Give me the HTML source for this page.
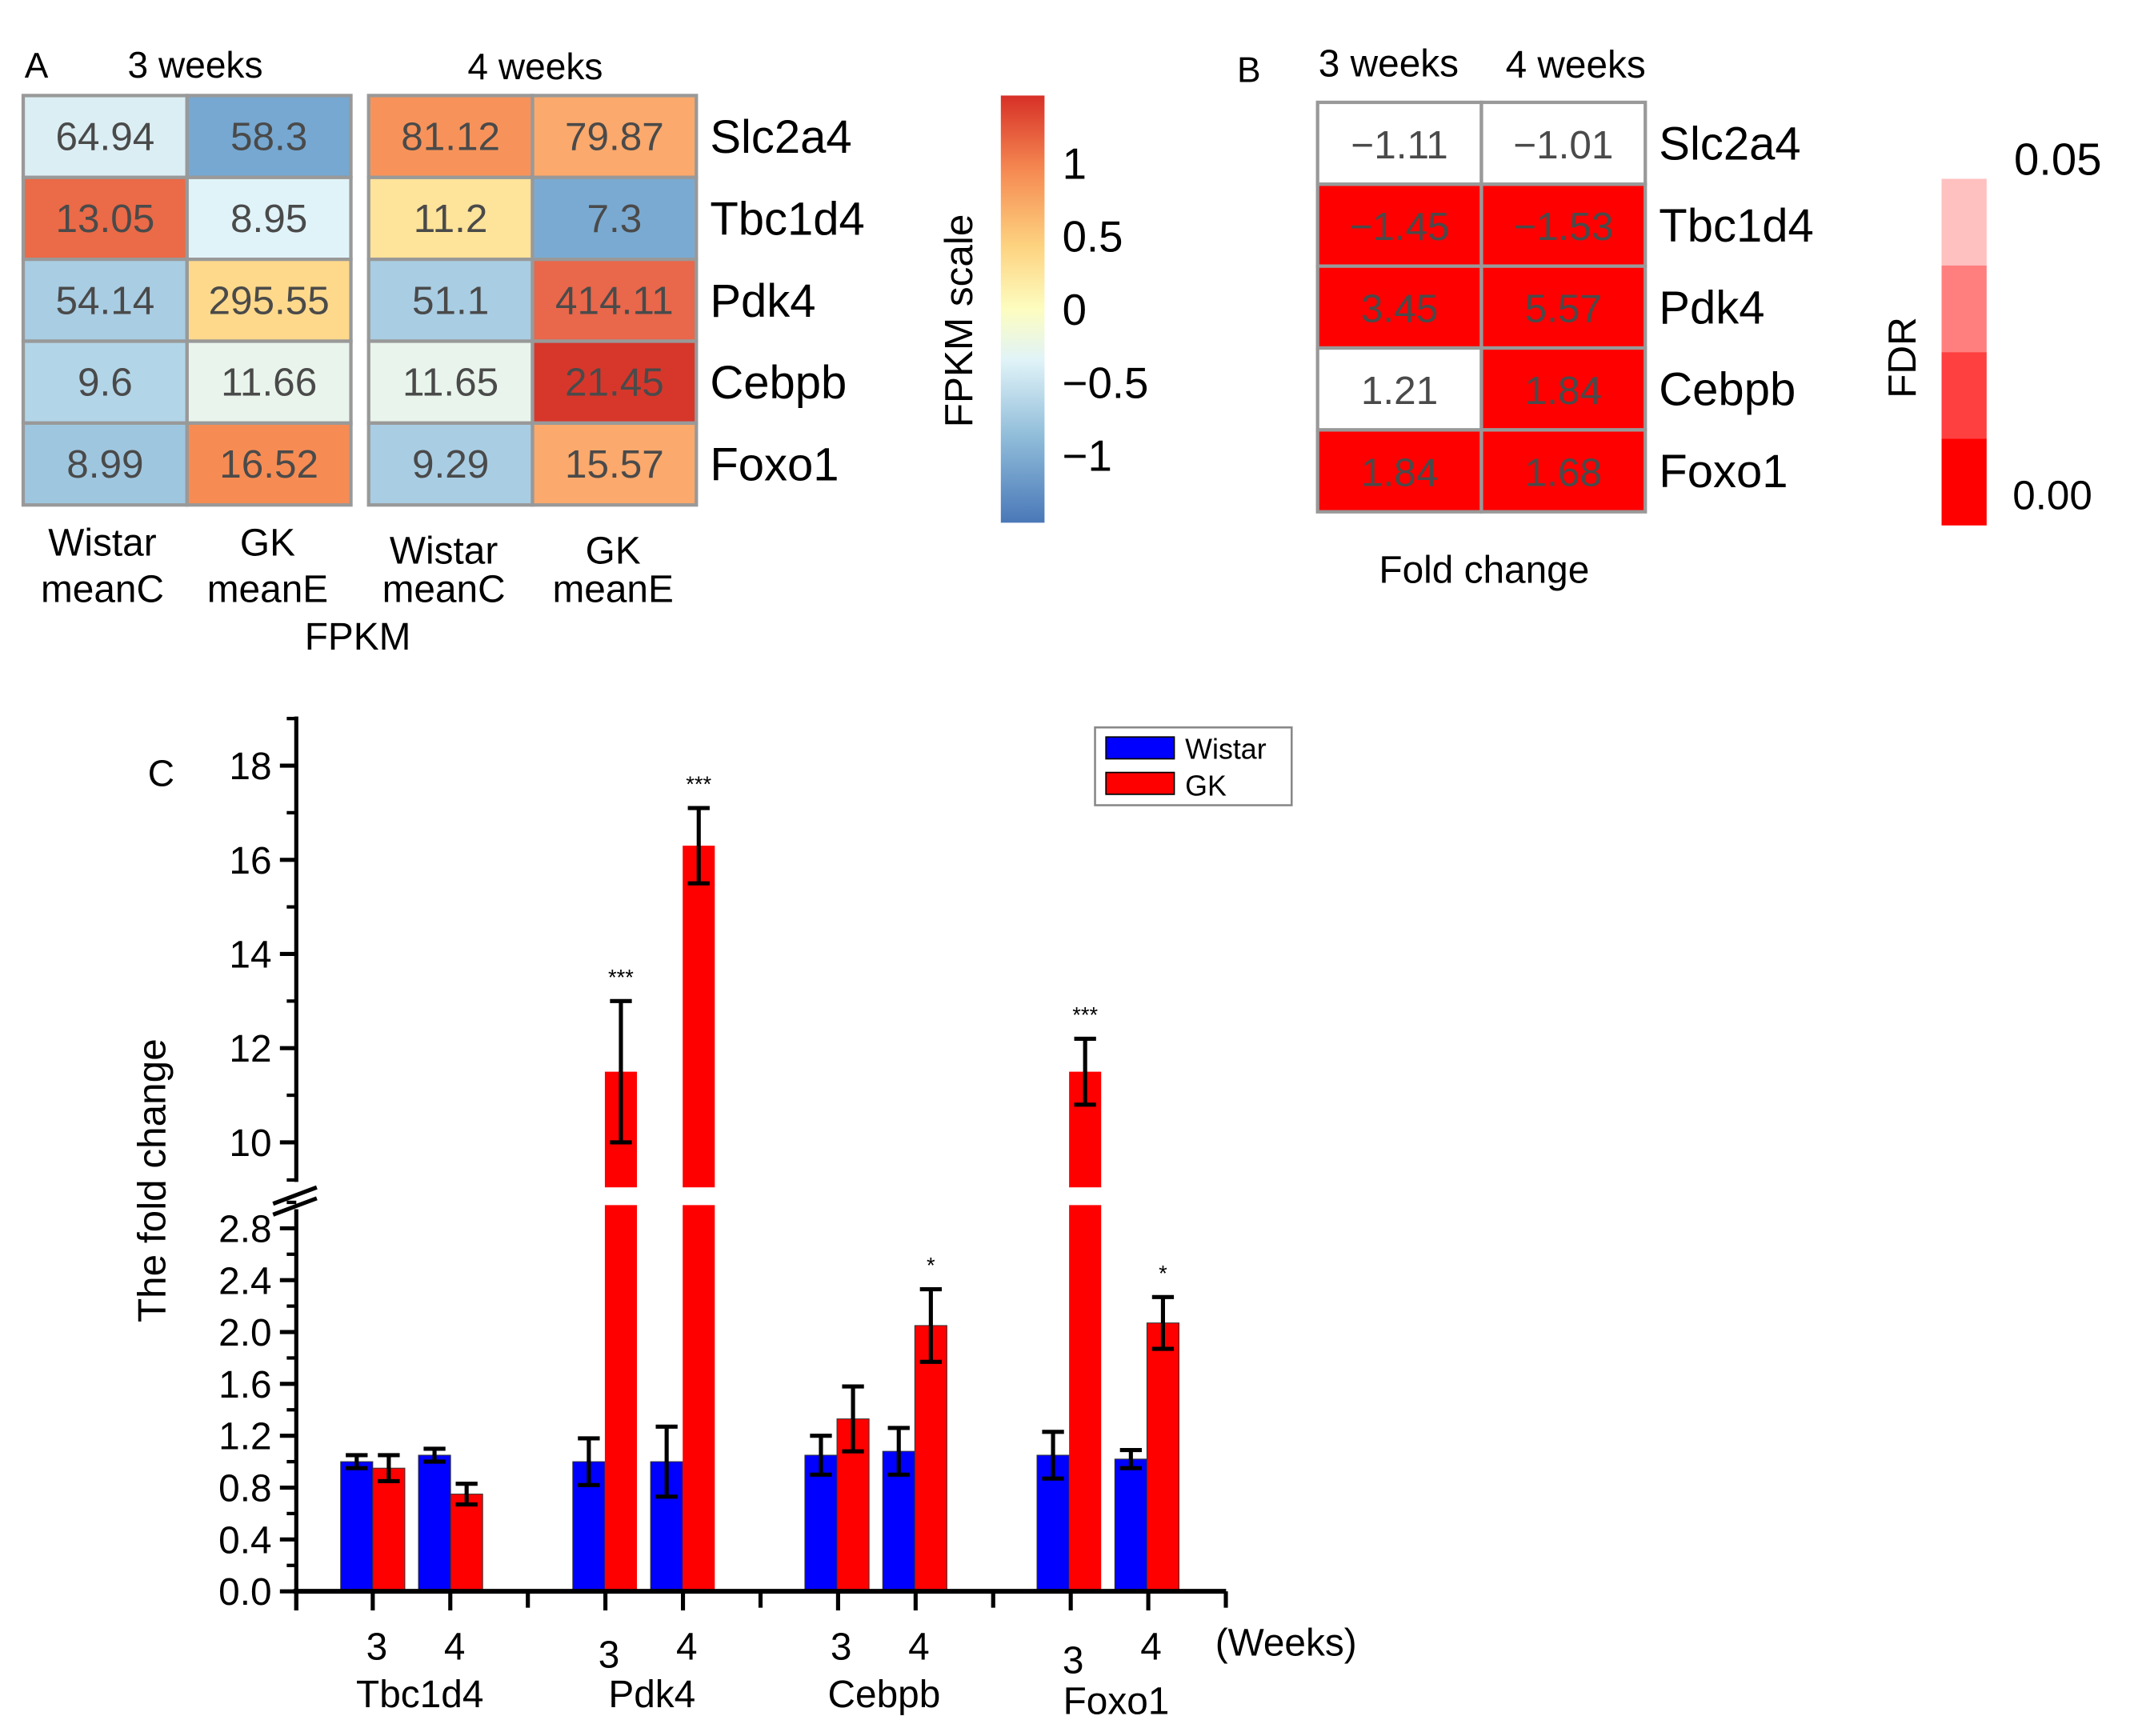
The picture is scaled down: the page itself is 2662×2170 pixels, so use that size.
<!DOCTYPE html>
<html><head><meta charset="utf-8"><style>
html,body{margin:0;padding:0;background:#fff;}
svg{display:block;font-family:"Liberation Sans",Arial,sans-serif;}
</style></head><body>
<svg id="fig" width="2662" height="2170" viewBox="0 0 1560 1272" preserveAspectRatio="none" xmlns="http://www.w3.org/2000/svg">
<defs>
<linearGradient id="fpkmGrad" x1="0" y1="1" x2="0" y2="0">
<stop offset="0" stop-color="#4a78b8"/><stop offset="0.2" stop-color="#8fbcd9"/><stop offset="0.38" stop-color="#e0f3f8"/><stop offset="0.5" stop-color="#fdfdc0"/><stop offset="0.65" stop-color="#fdd27f"/><stop offset="0.82" stop-color="#f68c53"/><stop offset="1" stop-color="#d73027"/>
</linearGradient>
</defs>
<g id="panelA"></g>
<g id="panelB"></g>
<g id="panelC"></g>
</svg>
<script>
const NS="http://www.w3.org/2000/svg";
const genesA=["Slc2a4","Tbc1d4","Pdk4","Cebpb","Foxo1"];
const fpkm3W=["64.94","13.05","54.14","9.6","8.99"];
const fpkm3GK=["58.3","8.95","295.55","11.66","16.52"];
const fpkm4W=["81.12","11.2","51.1","11.65","9.29"];
const fpkm4GK=["79.87","7.3","414.11","21.45","15.57"];
const colA3W=["#dbeef4","#eb6a47","#a9cde3","#b3d5e8","#9fc6df"];
const colA3GK=["#76a8d1","#e0f3f8","#fed98b","#e9f5ec","#f68c53"];
const colA4W=["#f7935a","#fee39a","#a9cde3","#e9f5ec","#a9cde3"];
const colA4GK=["#fba96c","#7aaad2","#e9674a","#d7372b","#fba96c"];
const fc3=["\u22121.11","\u22121.45","3.45","1.21","1.84"];
const fc4=["\u22121.01","\u22121.53","5.57","1.84","1.68"];
const sig3=[false,true,true,false,true];
const sig4=[false,true,true,true,true];
const fpkmTicks=[1,0.5,0,-0.5,-1];
const fdrTicks=["0.05","0.00"];

const genesC=["Tbc1d4","Pdk4","Cebpb","Foxo1"];
const wistar3=[1.0,1.0,1.05,1.05];
const wistar3Err=[0.05,0.18,0.15,0.18];
const gk3=[0.95,11.5,1.33,11.5];
const gk3Err=[0.1,1.5,0.25,0.7];
const wistar4=[1.05,1.0,1.08,1.02];
const wistar4Err=[0.05,0.27,0.18,0.07];
const gk4=[0.75,16.3,2.05,2.07];
const gk4Err=[0.08,0.8,0.28,0.2];
const stars3=["","***","","***"];
const stars4=["","***","*","*"];
const lowTicks=[0,0.4,0.8,1.2,1.6,2.0,2.4,2.8];
const highTicks=[10,12,14,16,18];

function el(parent,tag,attrs,text){const e=document.createElementNS(NS,tag);for(const k in attrs)e.setAttribute(k,attrs[k]);if(text!==undefined)e.textContent=text;parent.appendChild(e);return e;}

// ---------- Panel A ----------
const A=document.getElementById('panelA');
let t;
t=el(A,'text',{x:18,y:57,'font-size':26,fill:'#000'},'A');
t=el(A,'text',{x:143,y:57,'font-size':27,'text-anchor':'middle'},'3 weeks');
t=el(A,'text',{x:392,y:58,'font-size':27,'text-anchor':'middle'},'4 weeks');
const cols=[[17,fpkm3W,colA3W],[137,fpkm3GK,colA3GK],[270,fpkm4W,colA4W],[390,fpkm4GK,colA4GK]];
const cw=120,rh=60,ay0=70;
cols.forEach((c,ci)=>{for(let r=0;r<5;r++){
 const g=el(A,'g',{});
 
 el(g,'rect',{x:c[0],y:ay0+r*rh,width:cw,height:rh,fill:c[2][r],stroke:'#999','stroke-width':2.5});
 el(g,'text',{x:c[0]+cw/2,y:ay0+r*rh+40,'font-size':29,'text-anchor':'middle',fill:'#4a4a4a'},c[1][r]);
}});
genesA.forEach((gname,r)=>{t=el(A,'text',{x:520,y:ay0+r*rh+42,'font-size':34},gname);});
[[75,'Wistar','meanC',397],[196,'GK','meanE',397],[325,'Wistar','meanC',403],[449,'GK','meanE',403]].forEach(a=>{
 t=el(A,'text',{x:a[0],y:a[3]+10,'font-size':28,'text-anchor':'middle'},a[1]);
 t=el(A,'text',{x:a[0],y:441,'font-size':28,'text-anchor':'middle'},a[2]);
});
t=el(A,'text',{x:262,y:476,'font-size':28,'text-anchor':'middle'},'FPKM');
let r_=el(A,'rect',{x:733,y:70,width:32,height:313,fill:'url(#fpkmGrad)'});
function cbY(v){return 227-v*107;}
fpkmTicks.forEach(v=>{t=el(A,'text',{x:778,y:cbY(v)+11,'font-size':32},v<0?'\u2212'+Math.abs(v):String(v));});
t=el(A,'text',{x:0,y:0,'font-size':29,'text-anchor':'middle',transform:'translate(712,235) rotate(-90)'},'FPKM scale');

// ---------- Panel B ----------
const B=document.getElementById('panelB');
t=el(B,'text',{x:906,y:60,'font-size':26},'B');
t=el(B,'text',{x:1017,y:56,'font-size':28,'text-anchor':'middle'},'3 weeks');
t=el(B,'text',{x:1154,y:57,'font-size':28,'text-anchor':'middle'},'4 weeks');
[[965,fc3,sig3],[1085,fc4,sig4]].forEach(c=>{for(let r=0;r<5;r++){
 const g=el(B,'g',{});
 
 el(g,'rect',{x:c[0],y:75+r*rh,width:cw,height:rh,fill:c[2][r]?'#ff0000':'#ffffff',stroke:'#999','stroke-width':2.5});
 el(g,'text',{x:c[0]+cw/2,y:75+r*rh+41,'font-size':29,'text-anchor':'middle',fill:'#4a4a4a'},c[1][r]);
}});
genesA.forEach((gname,r)=>{t=el(B,'text',{x:1215,y:75+r*rh+42,'font-size':34},gname);});
t=el(B,'text',{x:1087,y:427,'font-size':28,'text-anchor':'middle'},'Fold change');
['#ffc0c0','#ff7f7f','#ff4040','#ff0000'].forEach((c,i)=>{r_=el(B,'rect',{x:1422,y:131+i*63.5,width:33,height:63.5,fill:c});});
t=el(B,'text',{x:1475,y:128,'font-size':33},fdrTicks[0]);
t=el(B,'text',{x:1474,y:373,'font-size':30},fdrTicks[1]);
t=el(B,'text',{x:0,y:0,'font-size':29,'text-anchor':'middle',transform:'translate(1403,262) rotate(-90)'},'FDR');

// ---------- Panel C ----------
const C=document.getElementById('panelC');
const axX=217, baseY=1166, lowTop=870, highBottom=883;
function yLow(v){return baseY-v*95;}
function yHigh(v){return 837-(v-10)*34.5;}
const bw=23.5;
function groupTick(gi,wk){return 273+gi*170+(wk===4?57:0);}
t=el(C,'text',{x:118,y:576,'font-size':27,'text-anchor':'middle'},'C');
t=el(C,'text',{x:0,y:0,'font-size':29,'text-anchor':'middle',transform:'translate(121,865) rotate(-90)'},'The fold change');

function drawBar(x,v,err,color,star){
 const g=el(C,'g',{});
 
 
 if(v<=2.8){
  el(g,'rect',{x:x,y:yLow(v),width:bw,height:baseY-yLow(v),fill:color,stroke:'#333','stroke-width':0.6});
 }else{
  el(g,'rect',{x:x,y:lowTop,width:bw,height:baseY-lowTop,fill:color});
  el(g,'rect',{x:x,y:yHigh(v),width:bw,height:highBottom-yHigh(v),fill:color});
  el(g,'rect',{x:x-1,y:lowTop,width:bw+2,height:highBottom-lowTop,fill:'#fff'});
 }
 const yf=v<=2.8?yLow:yHigh;
 const cx=x+bw/2, y1=yf(v+err), y2=yf(v-err);
 el(g,'line',{x1:cx,y1:y1,x2:cx,y2:y2,stroke:'#000','stroke-width':3});
 el(g,'line',{x1:cx-8,y1:y1,x2:cx+8,y2:y1,stroke:'#000','stroke-width':3});
 el(g,'line',{x1:cx-8,y1:y2,x2:cx+8,y2:y2,stroke:'#000','stroke-width':3});
 if(star){el(g,'text',{x:cx,y:y1-12,'font-size':16,'text-anchor':'middle'},star);}
}
const week3Dy=[0,6,0,10];
genesC.forEach((gname,gi)=>{
 const t3=groupTick(gi,3), t4=groupTick(gi,4);
 drawBar(t3-bw,wistar3[gi],wistar3Err[gi],'#0000ff','');
 drawBar(t3,gk3[gi],gk3Err[gi],'#ff0000',stars3[gi]);
 drawBar(t4-bw,wistar4[gi],wistar4Err[gi],'#0000ff','');
 drawBar(t4,gk4[gi],gk4Err[gi],'#ff0000',stars4[gi]);
 t=el(C,'text',{x:t3+3,y:1216+week3Dy[gi],'font-size':28,'text-anchor':'middle'},'3');
 t=el(C,'text',{x:t4+3,y:1216,'font-size':28,'text-anchor':'middle'},'4');
 t=el(C,'text',{x:(t3+t4)/2+6,y:gi===3?1256:1251,'font-size':28,'text-anchor':'middle'},gname);
});
t=el(C,'text',{x:890,y:1213,'font-size':28},'(Weeks)');
const ax=el(C,'g',{});
el(ax,'line',{x1:axX,y1:525,x2:axX,y2:866,stroke:'#000','stroke-width':3});
el(ax,'line',{x1:axX,y1:886,x2:axX,y2:1180,stroke:'#000','stroke-width':3});
el(ax,'line',{x1:200,y1:882,x2:232,y2:870,stroke:'#000','stroke-width':3});
el(ax,'line',{x1:200,y1:890,x2:232,y2:878,stroke:'#000','stroke-width':3});
highTicks.forEach(v=>{el(ax,'line',{x1:axX-12,y1:yHigh(v),x2:axX,y2:yHigh(v),stroke:'#000','stroke-width':3});
 el(ax,'line',{x1:axX-7,y1:yHigh(v+1),x2:axX,y2:yHigh(v+1),stroke:'#000','stroke-width':2.5});
 el(ax,'text',{x:199,y:yHigh(v)+10,'font-size':28,'text-anchor':'end'},String(v));});
el(ax,'line',{x1:axX-7,y1:yHigh(9.2),x2:axX,y2:yHigh(9.2),stroke:'#000','stroke-width':2.5});
lowTicks.forEach(v=>{el(ax,'line',{x1:axX-12,y1:yLow(v),x2:axX,y2:yLow(v),stroke:'#000','stroke-width':3});
 el(ax,'line',{x1:axX-7,y1:yLow(v+0.2),x2:axX,y2:yLow(v+0.2),stroke:'#000','stroke-width':2.5});
 el(ax,'text',{x:199,y:yLow(v)+10,'font-size':28,'text-anchor':'end'},v.toFixed(1));});
const xa=el(C,'g',{});
el(xa,'line',{x1:axX-2,y1:baseY,x2:898,y2:baseY,stroke:'#000','stroke-width':3.5});
for(let i=0;i<12;i++){const x=273+i*56.8;el(xa,'line',{x1:x,y1:baseY,x2:x,y2:baseY+(i%3===2||i===11?12:14),stroke:'#000','stroke-width':3});}
el(xa,'line',{x1:axX,y1:baseY,x2:axX,y2:baseY+14,stroke:'#000','stroke-width':3});
const lg=el(C,'g',{});
el(lg,'rect',{x:802,y:533,width:144,height:57,fill:'#fff',stroke:'#888','stroke-width':1.5});
const l1=el(lg,'g',{});
el(l1,'rect',{x:810,y:540,width:50,height:16,fill:'#0000ff',stroke:'#000','stroke-width':1});
el(l1,'text',{x:868,y:556,'font-size':21},'Wistar');
const l2=el(lg,'g',{});
el(l2,'rect',{x:810,y:566,width:50,height:16,fill:'#ff0000',stroke:'#000','stroke-width':1});
el(l2,'text',{x:868,y:583,'font-size':21},'GK');
</script>
</body></html>
